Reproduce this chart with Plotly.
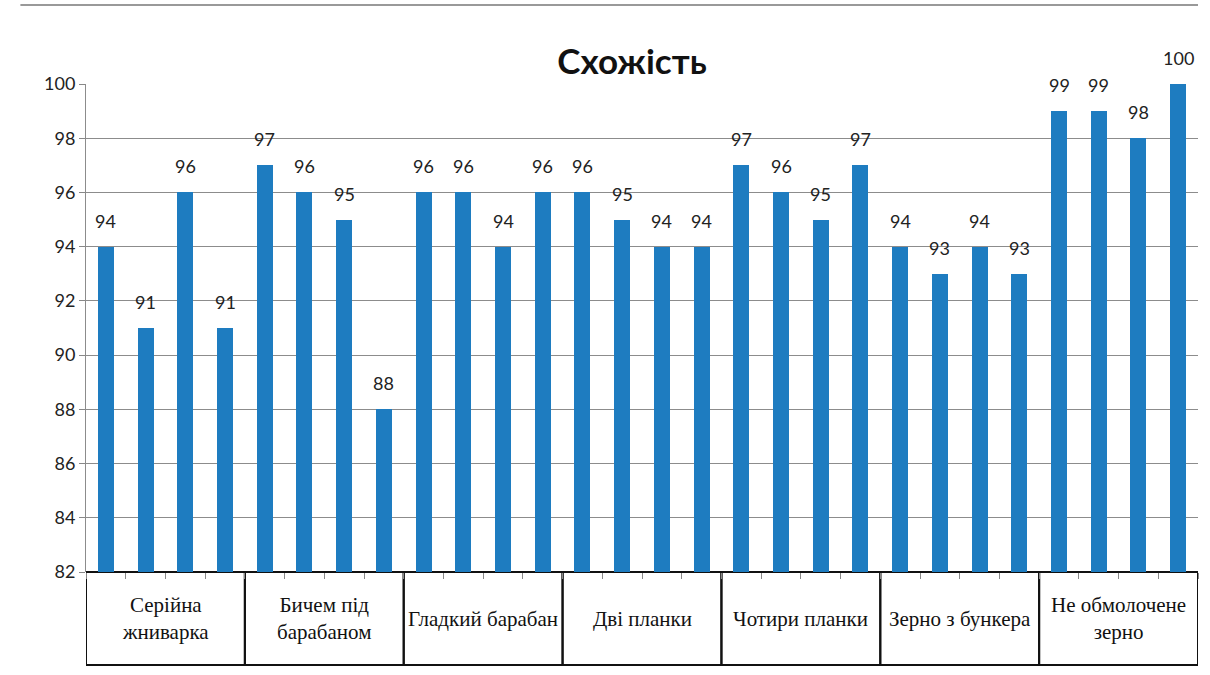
import plotly.graph_objects as go

# Germination (%) for each threshing variant, four samples per variant
groups = ["Серійна<br>жниварка", "Бичем під<br>барабаном", "Гладкий барабан",
          "Дві планки", "Чотири планки", "Зерно з бункера", "Не обмолочене<br>зерно"]
values = [
    94, 91, 96, 91,
    97, 96, 95, 88,
    96, 96, 94, 96,
    96, 95, 94, 94,
    97, 96, 95, 97,
    94, 93, 94, 93,
    99, 99, 98, 100,
]
y_ticks = [82, 84, 86, 88, 90, 92, 94, 96, 98, 100]
per_group = 4

x = list(range(len(values)))
bar_color = "#1E7CC0"
sans = "Lato, 'Open Sans', sans-serif"
serif = "'Liberation Serif', 'DejaVu Serif', serif"

fig = go.Figure(go.Bar(
    x=x, y=values, width=0.4, marker_color=bar_color, marker_line_width=0,
    hoverinfo="x+y",
))

annotations = []
# value labels above each bar
for xi, v in zip(x, values):
    annotations.append(dict(xref="x", yref="y", x=xi, y=v, text=str(v), showarrow=False,
                            xanchor="center", yanchor="middle", yshift=26,
                            font=dict(family=sans, size=18, color="#222")))

box_bottom = -(665 - 572) / 488
shapes = []
for g, name in enumerate(groups):
    x0 = g * per_group - 0.5
    x1 = x0 + per_group
    shapes.append(dict(type="rect", xref="x", yref="paper", x0=x0, x1=x1,
                       y0=box_bottom, y1=0, line=dict(color="#111", width=2),
                       fillcolor="rgba(0,0,0,0)", layer="below"))
    annotations.append(dict(xref="x", yref="paper", x=(x0 + x1) / 2, y=box_bottom / 2,
                            text=name, showarrow=False, xanchor="center", yanchor="middle",
                            font=dict(family=serif, size=21, color="#111")))

# thin rule across the top of the page
shapes.append(dict(type="line", xref="paper", yref="paper", x0=-0.059, x1=1.0,
                   y0=(572 - 5) / 488, y1=(572 - 5) / 488,
                   line=dict(color="#999", width=2)))

fig.update_layout(
    width=1210, height=675,
    margin=dict(l=86, r=12, t=84, b=103),
    paper_bgcolor="white", plot_bgcolor="white",
    showlegend=False,
    title=dict(text="<b>Схожість</b>", x=632 / 1210, xanchor="center",
               y=1 - 62 / 675, yanchor="middle",
               font=dict(family=sans, size=35, color="#111")),
    shapes=shapes, annotations=annotations,
    bargap=0,
)
fig.update_xaxes(range=[-0.5, len(values) - 0.5],
                 tickvals=[i - 0.5 for i in range(len(values) + 1)],
                 showticklabels=False, ticks="outside", ticklen=6, tickcolor="#888",
                 showgrid=False, zeroline=False, showline=False)
fig.update_yaxes(range=[82, 100], tickvals=y_ticks, ticks="outside", ticklen=6,
                 tickcolor="#888", showgrid=True, gridcolor="#8c8c8c", gridwidth=1,
                 showline=True, linecolor="#8c8c8c", linewidth=1, zeroline=False,
                 tickfont=dict(family=sans, size=18, color="#222"))

fig.write_html("out.html")
